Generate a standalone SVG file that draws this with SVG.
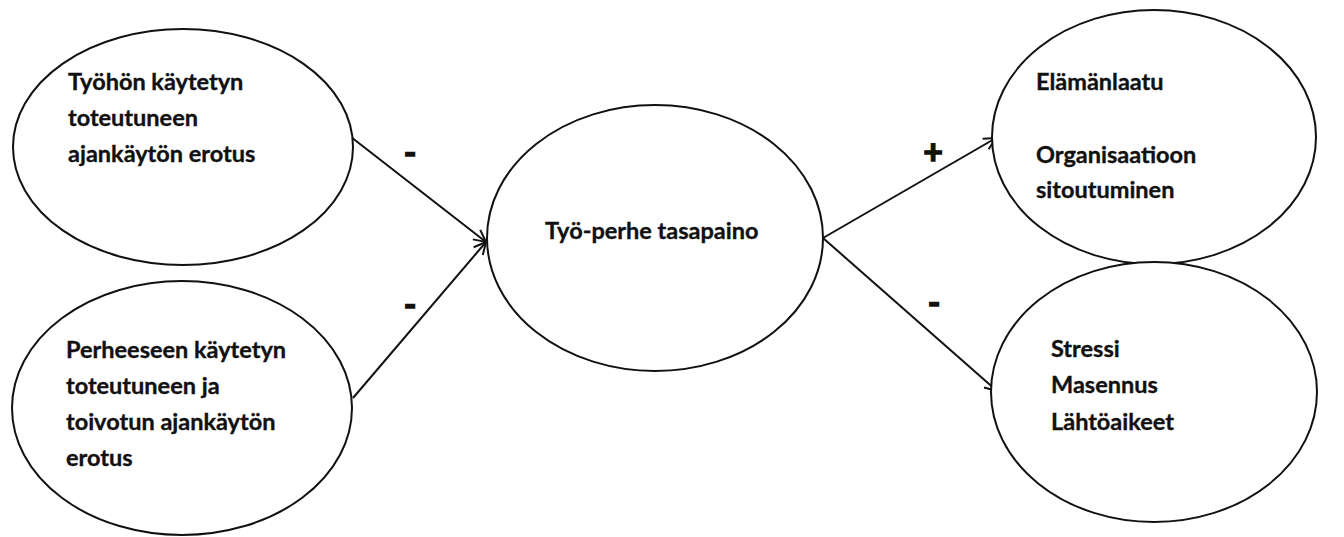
<svg xmlns="http://www.w3.org/2000/svg" width="1344" height="537" viewBox="0 0 1344 537">
  <defs>
    <style>
      .node ellipse { fill: #ffffff; stroke: #111111; stroke-width: 2; }
      .node text, .sign { font-family: Lato, "Open Sans", "DejaVu Sans", sans-serif; font-weight: bold; fill: #111111; }
      .node text { font-size: 23.5px; stroke: #111111; stroke-width: 0.35; }
      .sign { font-size: 34px; text-anchor: middle; stroke: #111111; stroke-width: 1.4; }
      .edge { stroke: #111111; stroke-width: 2; fill: none; marker-end: url(#head); }
    </style>
    <marker id="head" viewBox="0 0 16 16" refX="14" refY="8" markerWidth="16" markerHeight="16" markerUnits="userSpaceOnUse" orient="auto">
      <path d="M2,2 L14,8 L2,14" fill="none" stroke="#111111" stroke-width="2"/>
    </marker>
  </defs>
  <rect width="1344" height="537" fill="#ffffff"/>

  <!-- connectors -->
  <g id="connectors">
    <line class="edge" x1="351" y1="137" x2="486" y2="242"/>
    <line class="edge" x1="353" y1="398" x2="486" y2="242"/>
    <line class="edge" x1="823" y1="238" x2="996" y2="138"/>
    <line class="edge" x1="823" y1="238" x2="997" y2="391"/>
  </g>

  <!-- effect signs -->
  <g id="signs">
    <text class="sign" x="410" y="165">-</text>
    <text class="sign" x="410" y="317">-</text>
    <text class="sign" x="933" y="164">+</text>
    <text class="sign" x="934" y="315">-</text>
  </g>

  <g id="node-tyo" class="node">
    <ellipse cx="183" cy="147" rx="170" ry="118"/>
    <text x="68" y="90">Työhön käytetyn</text>
    <text x="68" y="126">toteutuneen</text>
    <text x="68" y="162">ajankäytön erotus</text>
  </g>

  <g id="node-perhe" class="node">
    <ellipse cx="182" cy="408" rx="170" ry="127"/>
    <text x="66" y="358">Perheeseen käytetyn</text>
    <text x="66" y="394">toteutuneen ja</text>
    <text x="66" y="430">toivotun ajankäytön</text>
    <text x="66" y="466">erotus</text>
  </g>

  <g id="node-tasapaino" class="node">
    <ellipse cx="655" cy="238" rx="168" ry="133"/>
    <text x="545" y="239">Työ-perhe tasapaino</text>
  </g>

  <g id="node-laatu" class="node">
    <ellipse cx="1154" cy="137" rx="162" ry="127"/>
    <text x="1036" y="90">Elämänlaatu</text>
    <text x="1036" y="163">Organisaatioon</text>
    <text x="1036" y="198">sitoutuminen</text>
  </g>

  <g id="node-stressi" class="node">
    <ellipse cx="1154" cy="392" rx="163" ry="130"/>
    <text x="1051" y="357">Stressi</text>
    <text x="1051" y="393">Masennus</text>
    <text x="1051" y="430">Lähtöaikeet</text>
  </g>
</svg>
